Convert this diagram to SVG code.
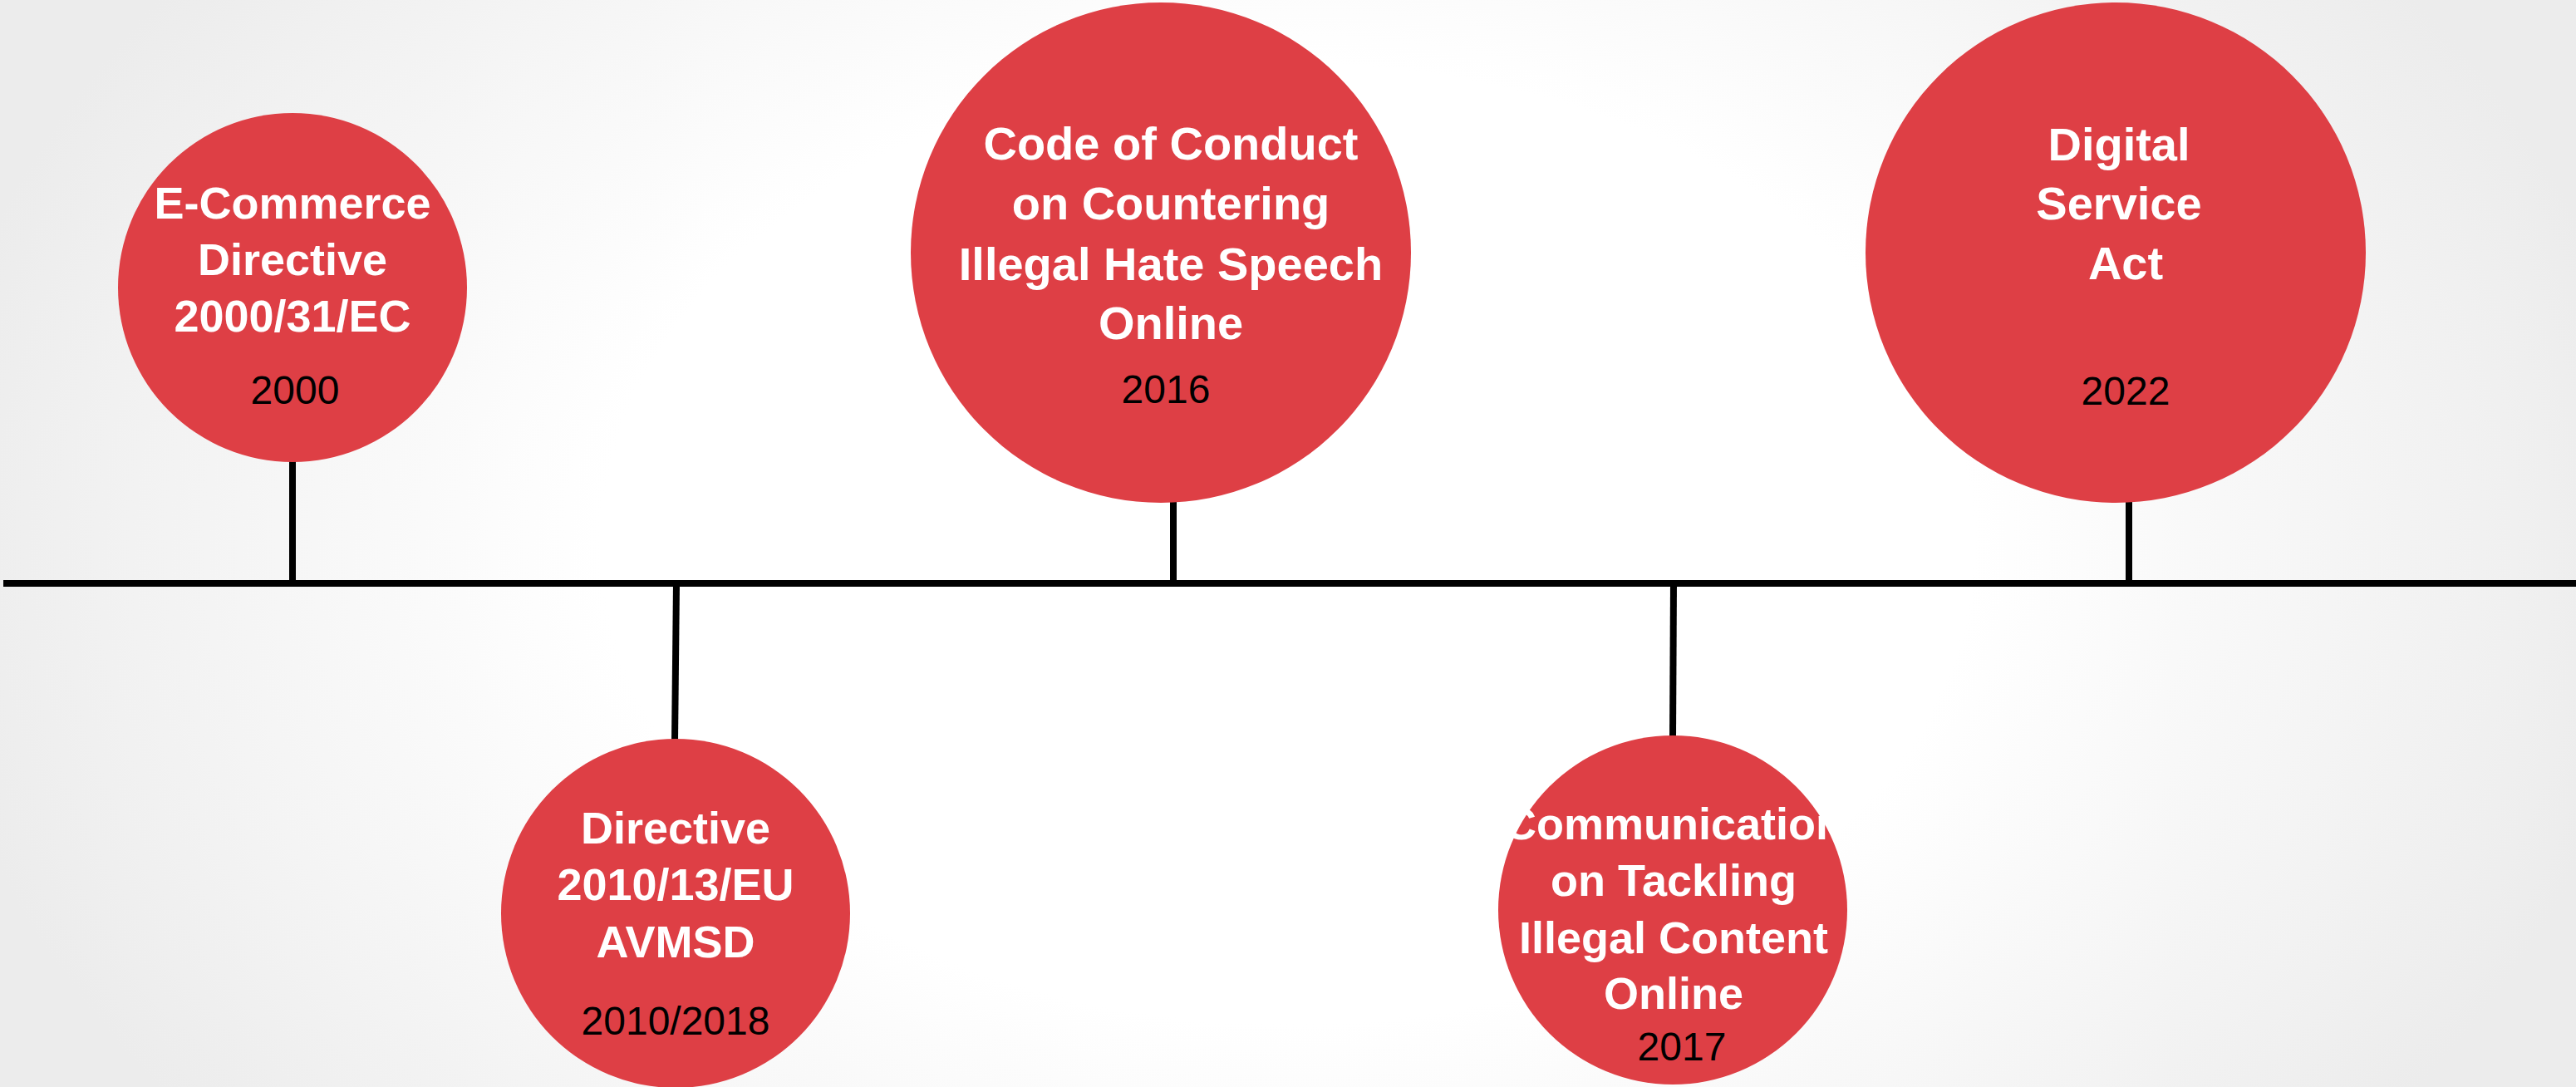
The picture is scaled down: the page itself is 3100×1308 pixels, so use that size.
<svg xmlns="http://www.w3.org/2000/svg" width="3100" height="1308" viewBox="0 0 3100 1308">
<defs>
<radialGradient id="bg" gradientUnits="userSpaceOnUse" cx="1550" cy="654" r="1650" gradientTransform="translate(1550 654) scale(1 0.7) translate(-1550 -654)">
<stop offset="0" stop-color="#ffffff"/>
<stop offset="0.5" stop-color="#ffffff"/>
<stop offset="1" stop-color="#ececec"/>
</radialGradient>
<style>
.c{fill:#de3f45}
.t{font-family:"Liberation Sans",Arial,sans-serif;font-weight:bold;fill:#ffffff;text-anchor:middle}
.y{font-family:"Liberation Sans",Arial,sans-serif;font-size:48px;fill:#000000;text-anchor:middle}
.s{stroke:#000000;stroke-width:8;fill:none}
</style>
</defs>
<rect width="3100" height="1308" fill="url(#bg)"/>
<g id="connectors">
<line class="s" x1="4" y1="702" x2="3100" y2="702"/>
<line class="s" x1="352" y1="550" x2="352" y2="702"/>
<line class="s" x1="1412" y1="598" x2="1412" y2="702"/>
<line class="s" x1="2562" y1="598" x2="2562" y2="702"/>
<line class="s" x1="814" y1="702" x2="812" y2="894"/>
<line class="s" x1="2014" y1="702" x2="2013" y2="890"/>
</g>
<g id="node-ecommerce">
<circle class="c" cx="352" cy="346" r="210"/>
<text class="t" font-size="54"><tspan x="352" y="263">E-Commerce</tspan><tspan x="352" y="331">Directive</tspan><tspan x="352" y="399">2000/31/EC</tspan></text>
<text class="y" x="355" y="486">2000</text>
</g>
<g id="node-code-of-conduct">
<circle class="c" cx="1397" cy="304" r="301"/>
<text class="t" font-size="56"><tspan x="1409" y="192">Code of Conduct</tspan><tspan x="1409" y="264">on Countering</tspan><tspan x="1409" y="337">Illegal Hate Speech</tspan><tspan x="1409" y="408">Online</tspan></text>
<text class="y" x="1403" y="485">2016</text>
</g>
<g id="node-dsa">
<circle class="c" cx="2546" cy="304" r="301"/>
<text class="t" font-size="56"><tspan x="2550" y="193">Digital</tspan><tspan x="2550" y="264">Service</tspan><tspan x="2558" y="336">Act</tspan></text>
<text class="y" x="2558" y="487">2022</text>
</g>
<g id="node-avmsd">
<circle class="c" cx="813" cy="1099" r="210"/>
<text class="t" font-size="54"><tspan x="813" y="1015">Directive</tspan><tspan x="813" y="1083">2010/13/EU</tspan><tspan x="813" y="1152">AVMSD</tspan></text>
<text class="y" x="813" y="1245">2010/2018</text>
</g>
<g id="node-communication">
<circle class="c" cx="2013" cy="1095" r="210"/>
<text class="t" font-size="54"><tspan x="2014" y="1010">Communication</tspan><tspan x="2014" y="1078">on Tackling</tspan><tspan x="2014" y="1147">Illegal Content</tspan><tspan x="2014" y="1214">Online</tspan></text>
<text class="y" x="2024" y="1276">2017</text>
</g>
</svg>
